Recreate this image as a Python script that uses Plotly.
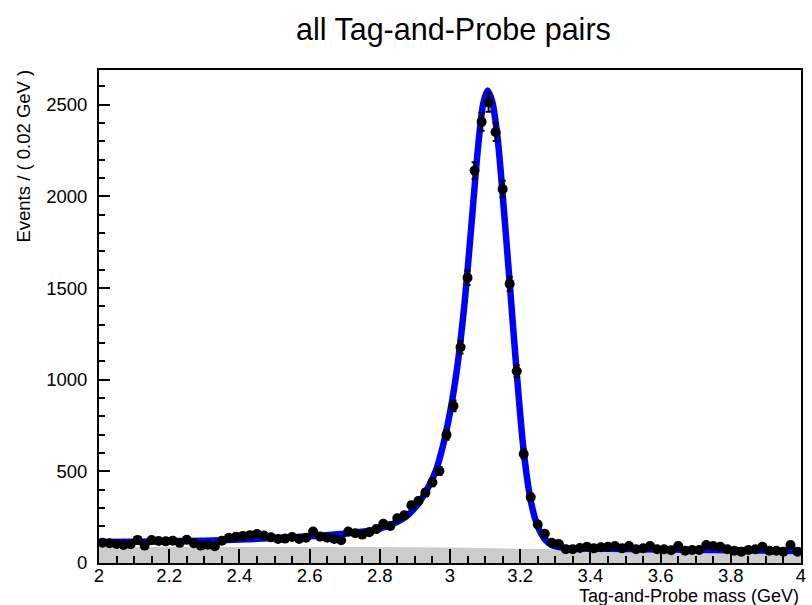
import numpy as np
import plotly.graph_objects as go

# ---- data ----
bin_centers = [round(2.01 + 0.02 * i, 2) for i in range(100)]
events = [
    111, 108, 104, 98, 102, 126, 95, 125, 120, 118,
    122, 110, 127, 108, 95, 100, 92, 122, 138, 143,
    148, 152, 158, 150, 140, 131, 133, 142, 131, 138,
    172, 144, 138, 131, 124, 172, 162, 155, 168, 185,
    214, 202, 244, 260, 315, 338, 384, 440, 502, 699,
    857, 1177, 1556, 2141, 2407, 2513, 2351, 2040, 1523, 1046,
    595, 359, 210, 160, 110, 104, 75, 75, 82, 89,
    80, 86, 89, 93, 80, 93, 75, 80, 93, 75,
    75, 70, 93, 67, 71, 71, 98, 93, 89, 75,
    67, 62, 71, 75, 89, 67, 67, 62, 98, 62,
]
errors = [float(np.sqrt(v)) for v in events]

fit_x = [2.00, 2.10, 2.20, 2.30, 2.40, 2.50, 2.60, 2.70, 2.75, 2.80, 2.85, 2.88,
         2.91, 2.94, 2.96, 2.98, 3.00, 3.02, 3.04, 3.06, 3.08, 3.095, 3.107,
         3.12, 3.135, 3.15, 3.17, 3.19, 3.21, 3.23, 3.25, 3.27, 3.29, 3.32,
         3.40, 3.60, 3.80, 4.00]
fit_y = [115, 116, 118, 122, 128, 136, 146, 160, 170, 188, 224, 262,
         325, 420, 505, 640, 820, 1060, 1390, 1820, 2270, 2510, 2578,
         2520, 2330, 2010, 1530, 1040, 610, 340, 200, 130, 98, 84,
         79, 74, 70, 66]

bkg_x = [2.0, 2.5, 2.8, 3.0, 3.2, 3.4, 3.6, 3.8, 4.0]
bkg_y = [89, 89, 87, 84, 78, 70, 63, 57, 52]

title_text = "all Tag-and-Probe pairs"
x_title = "Tag-and-Probe mass (GeV)"
y_title = "Events / ( 0.02 GeV )"

FONT = "Liberation Sans, Arial, Helvetica, sans-serif"

fig = go.Figure()
fig.add_trace(go.Scatter(x=bkg_x, y=bkg_y, mode="lines", fill="tozeroy",
                         fillcolor="rgb(204,204,204)", line=dict(width=0, color="rgb(204,204,204)"),
                         hoverinfo="skip", showlegend=False))
fig.add_trace(go.Scatter(x=fit_x, y=fit_y, mode="lines",
                         line=dict(color="#0000ff", width=6.5, shape="spline", smoothing=0.8),
                         showlegend=False))
fig.add_trace(go.Scatter(x=bin_centers, y=events, mode="markers",
                         marker=dict(color="black", size=10),
                         error_y=dict(type="data", array=errors, color="black", thickness=2, width=3),
                         showlegend=False))

fig.update_layout(
    width=812, height=605,
    margin=dict(l=99, r=6, t=70, b=42),
    paper_bgcolor="white", plot_bgcolor="white",
    font=dict(family=FONT, color="black", size=18),
    showlegend=False,
    xaxis=dict(range=[2, 4], tickmode="array", tickvals=[2, 2.2, 2.4, 2.6, 2.8, 3, 3.2, 3.4, 3.6, 3.8, 4],
               ticktext=["2", "2.2", "2.4", "2.6", "2.8", "3", "3.2", "3.4", "3.6", "3.8", "4"],
               ticks="inside", ticklen=14, tickwidth=2, tickcolor="black",
               minor=dict(dtick=0.05, tick0=2, ticks="inside", ticklen=7, tickwidth=2, tickcolor="black"),
               showline=True, linecolor="black", linewidth=2, mirror=True,
               showgrid=False, zeroline=False, tickfont=dict(size=18.5), ticklabelstandoff=-5),
    yaxis=dict(range=[0, 2690], tickmode="array", tickvals=[0, 500, 1000, 1500, 2000, 2500],
               ticks="inside", ticklen=11, tickwidth=2, tickcolor="black",
               minor=dict(dtick=100, tick0=0, ticks="inside", ticklen=6, tickwidth=2, tickcolor="black"),
               showline=True, linecolor="black", linewidth=2, mirror=True,
               showgrid=False, zeroline=False, tickfont=dict(size=18.5), ticklabelstandoff=6),
    annotations=[
        dict(text=title_text, x=(456 - 99) / 707, y=1 + (70 - 30) / 493, xref="paper", yref="paper",
             xanchor="center", yanchor="middle", showarrow=False, font=dict(size=30.5)),
        dict(text=x_title, x=1.0, y=(563 - 595.5) / 493, xref="paper", yref="paper",
             xanchor="right", yanchor="middle", showarrow=False, font=dict(size=18)),
        dict(text=y_title, x=(22 - 99) / 707, y=(563 - 156) / 493, xref="paper", yref="paper",
             xanchor="center", yanchor="middle", textangle=-90, showarrow=False, font=dict(size=18.5)),
    ],
)

fig.write_html("out.html", config={"displayModeBar": False},
               post_script="document.body.style.margin='0px';document.body.style.overflow='hidden';")
